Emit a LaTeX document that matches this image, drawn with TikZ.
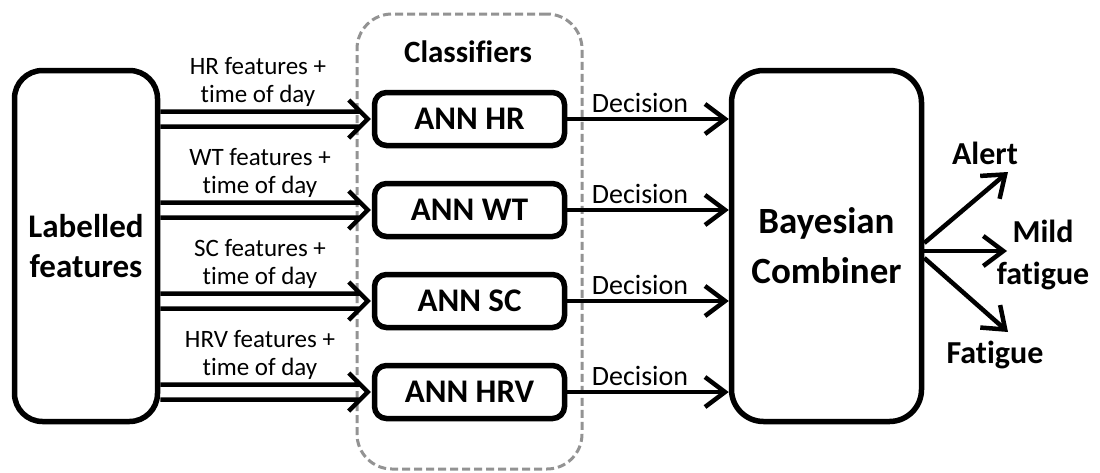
\documentclass[tikz,border=0pt]{standalone}
\usepackage{fontspec}
\setmainfont{Carlito}[Ligatures=NoCommon]
\usetikzlibrary{arrows.meta,calc}
\begin{document}
\begin{tikzpicture}[x=1pt,y=-1pt,
  bigbox/.style={draw, line width=5.5pt, rounded corners=28pt, inner sep=0pt, align=center,
    font=\fontsize{33}{40}\selectfont\bfseries},
  annbox/.style={draw, line width=5.5pt, rounded corners=12pt, minimum width=190pt,
    minimum height=53pt, inner sep=0pt, font=\fontsize{33}{40}\selectfont\bfseries},
  grp/.style={draw=gray!85, line width=3pt, dash pattern=on 8pt off 4pt, rounded corners=35pt,
    minimum width=225pt, minimum height=455pt, inner sep=0pt},
  inlbl/.style={inner sep=0pt, align=center, font=\fontsize{25}{28}\selectfont, anchor=south},
  declbl/.style={inner sep=0pt, font=\fontsize{28}{30}\selectfont, anchor=base},
  outlbl/.style={inner sep=0pt, align=center, font=\fontsize{32}{42}\selectfont\bfseries},
  dec/.style={line width=4.5pt, -{Straight Barb[length=20pt,width=30pt]}},
  dbl/.style={line width=4.5pt, line join=miter, to path={let \p1=(\tikztostart), \p2=(\tikztotarget) in
    (\x1,{\y1+7.5pt}) -- ({\x2-7.5pt},{\y1+7.5pt})
    (\x1,{\y1-7.5pt}) -- ({\x2-7.5pt},{\y1-7.5pt})
    ({\x2-19pt},{\y1+19pt}) -- (\x2,\y1) -- ({\x2-19pt},{\y1-19pt})}}
]
\useasboundingbox (0,0) rectangle (1100,472);

% group
\node[grp] (grp) at (469.5,241.5) {};
\node[inner sep=0pt, font=\fontsize{31}{36}\selectfont\bfseries] (cls) at (468,52) {Classifiers};

% main boxes
\node[bigbox, minimum width=143pt, minimum height=351pt] (lf) at (86,246) {Labelled\\features};
\node[bigbox, rounded corners=32pt, minimum width=190pt, minimum height=351pt,
  font=\fontsize{37}{50}\selectfont\bfseries] (bc) at (826.5,246) {Bayesian\\Combiner};

% classifiers
\node[annbox] (hr)  at (469.5,119) {ANN HR};
\node[annbox] (wt)  at (469.5,210) {ANN WT};
\node[annbox] (sc)  at (469.5,301) {ANN SC};
\node[annbox] (hrv) at (469.5,392) {ANN HRV};

% input double arrows
\draw[dbl] (lf.east |- hr) to ([xshift=-4pt]hr.west);
\draw[dbl] (lf.east |- wt) to ([xshift=-4pt]wt.west);
\draw[dbl] (lf.east |- sc) to ([xshift=-4pt]sc.west);
\draw[dbl] (lf.east |- hrv) to ([xshift=-4pt]hrv.west);

\node[inlbl] (lhr)  at (258,107) {HR features +\\time of day};
\node[inlbl] (lwt)  at (260,198) {WT features +\\time of day};
\node[inlbl] (lsc)  at (260,289) {SC features +\\time of day};
\node[inlbl] (lhrv) at (260,380) {HRV features +\\time of day};

% decisions
\draw[dec] (hr.east) -- (hr.east -| bc.west);
\draw[dec] (wt.east) -- (wt.east -| bc.west);
\draw[dec] (sc.east) -- (sc.east -| bc.west);
\draw[dec] (hrv.east) -- (hrv.east -| bc.west);
\node[declbl] (dhr)  at (640,112) {Decision};
\node[declbl] (dwt)  at (640,203) {Decision};
\node[declbl] (dsc)  at (640,294) {Decision};
\node[declbl] (dhrv) at (640,385) {Decision};

% outputs
\coordinate (oa) at (1008,172);
\coordinate (om) at (1007,251);
\coordinate (of) at (1008,332);
\draw[dec] ($(bc.east)+(0,-3)$) -- (oa);
\draw[dec] ($(bc.east)+(0,5)$) -- (om);
\draw[dec] ($(bc.east)+(0,12)$) -- (of);
\node[outlbl] (la) at (985,153) {Alert};
\node[outlbl] (lm) at (1043,255) {Mild\\fatigue};
\node[outlbl] (lfa) at (995,355) {Fatigue};
\end{tikzpicture}
\end{document}
